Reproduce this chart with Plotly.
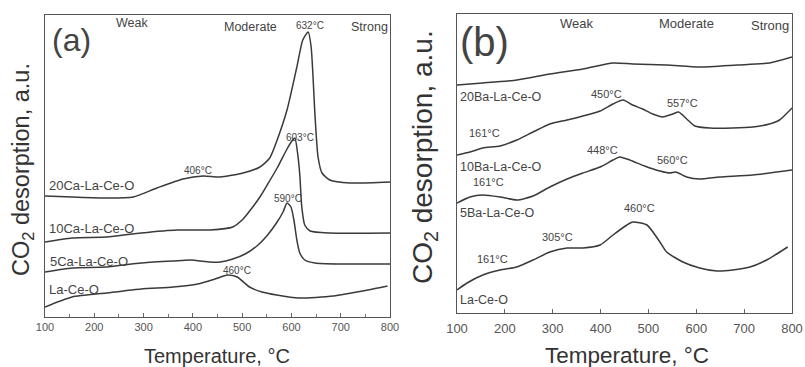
import plotly.graph_objects as go

W, H = 805, 367

# ---------------- Panel (a): Ca-doped samples ----------------
T_a_LaCeO = [100, 155, 225, 295, 360, 410, 445, 470, 490, 515, 540, 570, 615, 685, 755, 795]
I_a_LaCeO = [1.0, 2.0, 2.4, 2.8, 3.0, 3.3, 3.8, 4.2, 4.0, 3.0, 2.5, 2.2, 1.9, 2.1, 2.7, 3.1]

T_a_5Ca = [100, 155, 225, 295, 360, 395, 435, 455, 481, 506, 530, 550, 571, 583, 591, 599, 605, 611, 617, 627, 648, 698, 800]
I_a_5Ca = [4.5, 4.9, 5.0, 5.4, 5.6, 5.7, 5.5, 5.5, 5.8, 6.3, 7.1, 8.1, 9.5, 10.5, 11.4, 11.0, 9.7, 7.7, 6.4, 5.7, 5.4, 5.3, 5.3]

T_a_10Ca = [100, 155, 225, 295, 368, 435, 481, 502, 520, 536, 552, 571, 591, 601, 607, 613, 617, 621, 627, 638, 678, 800]
I_a_10Ca = [7.5, 7.9, 8.0, 8.4, 8.7, 8.7, 9.0, 9.8, 10.9, 12.0, 13.3, 14.9, 16.8, 17.6, 17.9, 16.2, 14.2, 11.0, 9.2, 8.6, 8.4, 8.4]

T_a_20Ca = [100, 155, 225, 279, 327, 380, 421, 455, 502, 536, 556, 571, 591, 611, 623, 634, 640, 648, 654, 662, 678, 719, 800]
I_a_20Ca = [12.1, 12.0, 11.9, 12.0, 12.9, 13.8, 14.1, 14.0, 14.4, 15.0, 15.9, 17.7, 20.7, 25.0, 27.7, 28.5, 27.0, 20.0, 16.0, 14.4, 13.7, 13.4, 13.5]

# ---------------- Panel (b): Ba-doped samples ----------------
T_b_LaCeO = [100, 121, 154, 190, 225, 259, 294, 330, 363, 399, 426, 455, 467, 497, 524, 538, 572, 607, 643, 676, 712, 747, 791]
I_b_LaCeO = [2.3, 3.0, 3.8, 4.3, 4.6, 5.3, 6.1, 6.5, 6.5, 6.8, 7.8, 8.8, 9.1, 8.8, 7.1, 6.1, 5.1, 4.5, 4.2, 4.3, 4.6, 5.3, 6.6]

T_b_5Ba = [100, 127, 154, 190, 225, 259, 294, 330, 363, 399, 426, 440, 461, 492, 524, 545, 557, 580, 607, 649, 718, 800]
I_b_5Ba = [11.0, 11.6, 11.8, 11.6, 11.3, 11.7, 12.6, 13.4, 14.0, 14.6, 15.3, 15.6, 15.3, 14.7, 14.2, 14.0, 14.1, 13.6, 13.4, 13.6, 13.8, 14.3]

T_b_10Ba = [100, 127, 154, 190, 225, 259, 294, 330, 363, 399, 426, 447, 467, 488, 509, 530, 551, 563, 580, 597, 628, 676, 718, 753, 774, 800]
I_b_10Ba = [15.8, 16.1, 16.5, 16.7, 17.3, 18.1, 18.9, 19.3, 19.7, 20.2, 20.9, 21.3, 20.8, 20.4, 19.9, 19.6, 19.9, 20.1, 19.4, 18.7, 18.5, 18.5, 18.6, 18.9, 19.3, 20.5]

T_b_20Ba = [100, 154, 225, 294, 363, 426, 467, 538, 607, 685, 753, 800]
I_b_20Ba = [22.8, 23.0, 23.3, 23.9, 24.4, 25.0, 24.9, 24.8, 24.6, 24.8, 25.0, 25.6]

TICKS = [100, 200, 300, 400, 500, 600, 700, 800]

LINE = "#3a3a3a"
TXT = "#444444"
FONT = "Liberation Sans, Arial, sans-serif"


def px_x(p):
    return p / W


def px_y(p):
    return 1 - p / H


fig = go.Figure()

for T, I in [(T_a_LaCeO, I_a_LaCeO), (T_a_5Ca, I_a_5Ca), (T_a_10Ca, I_a_10Ca), (T_a_20Ca, I_a_20Ca)]:
    fig.add_trace(go.Scatter(x=T, y=I, mode="lines", xaxis="x", yaxis="y",
                             line=dict(color=LINE, width=1.5, shape="spline", smoothing=0.6),
                             hoverinfo="skip"))
for T, I in [(T_b_LaCeO, I_b_LaCeO), (T_b_5Ba, I_b_5Ba), (T_b_10Ba, I_b_10Ba), (T_b_20Ba, I_b_20Ba)]:
    fig.add_trace(go.Scatter(x=T, y=I, mode="lines", xaxis="x2", yaxis="y2",
                             line=dict(color=LINE, width=1.5, shape="spline", smoothing=0.6),
                             hoverinfo="skip"))

axis_common = dict(showgrid=False, zeroline=False, showline=True, linecolor="#555",
                   linewidth=1.2, mirror=True, automargin=False)

fig.update_layout(
    template="none",
    width=W, height=H,
    autosize=False,
    margin=dict(l=0, r=0, t=0, b=0, pad=0),
    paper_bgcolor="white", plot_bgcolor="white",
    showlegend=False,
    font=dict(family=FONT, color=TXT),
    xaxis=dict(domain=[px_x(45), px_x(390)], range=[100, 800], tickvals=TICKS,
               ticks="inside", ticklen=4, tickcolor="#666",
               tickfont=dict(size=11, color="#555"),
               minor=dict(ticks="inside", ticklen=3, tick0=150, dtick=100, tickcolor="#777"),
               anchor="y", **axis_common),
    yaxis=dict(domain=[px_y(317), px_y(15)], range=[0, 30.2], showticklabels=False, ticks="",
               anchor="x", **axis_common),
    xaxis2=dict(domain=[px_x(457), px_x(792)], range=[100, 800], tickvals=TICKS,
                ticks="inside", ticklen=4, tickcolor="#666",
                tickfont=dict(size=13, color="#555"), ticklabelstandoff=3,
                anchor="y2", **axis_common),
    yaxis2=dict(domain=[px_y(313), px_y(14)], range=[0, 29.9], showticklabels=False, ticks="",
                anchor="x2", **axis_common),
)

ann = []


def A(text, x, y, size, xr="x", yr="y", xanchor="center", color=TXT, angle=0):
    ann.append(dict(text=text, x=x, y=y, xref=xr, yref=yr, showarrow=False,
                    xanchor=xanchor, yanchor="middle", textangle=angle,
                    font=dict(size=size, color=color, family=FONT)))


# Panel (a) labels
A("(a)", 153, 27.7, 32)
A("Weak", 276, 29.4, 12.5)
A("Moderate", 516, 29.0, 12.5)
A("632°C", 637, 29.2, 10)
A("Strong", 759, 29.0, 12.5)
A("603°C", 617, 18.0, 10)
A("406°C", 410, 14.7, 10)
A("590°C", 593, 11.9, 10)
A("460°C", 490, 4.7, 10)
A("20Ca-La-Ce-O", 104, 13.2, 13, xanchor="left")
A("10Ca-La-Ce-O", 104, 8.9, 13, xanchor="left")
A("5Ca-La-Ce-O", 106, 5.6, 13, xanchor="left")
A("La-Ce-O", 104, 2.8, 13, xanchor="left")

# Panel (b) labels
A("(b)", 158, 27.1, 40, "x2", "y2")
A("Weak", 350, 29.0, 13, "x2", "y2")
A("Moderate", 580, 29.0, 13, "x2", "y2")
A("Strong", 753, 28.8, 13, "x2", "y2")
A("20Ba-La-Ce-O", 102, 21.6, 12.5, "x2", "y2", xanchor="left")
A("450°C", 413, 21.9, 11, "x2", "y2")
A("557°C", 572, 21.0, 11, "x2", "y2")
A("161°C", 158, 18.0, 11, "x2", "y2")
A("448°C", 405, 16.3, 11, "x2", "y2")
A("560°C", 551, 15.3, 11, "x2", "y2")
A("10Ba-La-Ce-O", 102, 14.6, 12.5, "x2", "y2", xanchor="left")
A("161°C", 165, 13.1, 11, "x2", "y2")
A("5Ba-La-Ce-O", 102, 10.0, 12.5, "x2", "y2", xanchor="left")
A("460°C", 482, 10.5, 11, "x2", "y2")
A("305°C", 309, 7.6, 11, "x2", "y2")
A("161°C", 175, 5.4, 11, "x2", "y2")
A("La-Ce-O", 102, 1.3, 12.5, "x2", "y2", xanchor="left")

# Axis titles (placed as paper annotations)
A("Temperature, °C", px_x(217), px_y(356), 20, "paper", "paper", color="#333")
A("Temperature, °C", px_x(627), px_y(355), 22.5, "paper", "paper", color="#333")
A("CO<sub>2</sub> desorption, a.u.", px_x(23), px_y(170), 23.5, "paper", "paper", color="#333", angle=-90)
A("CO<sub>2</sub> desorption, a.u.", px_x(424), px_y(157), 28, "paper", "paper", color="#333", angle=-90)

fig.update_layout(annotations=ann)

fig.write_html(
    "out.html",
    config={"displayModeBar": False, "staticPlot": True},
    post_script="document.body.style.margin='0';document.body.style.padding='0';"
                "document.body.style.overflow='hidden';",
)
